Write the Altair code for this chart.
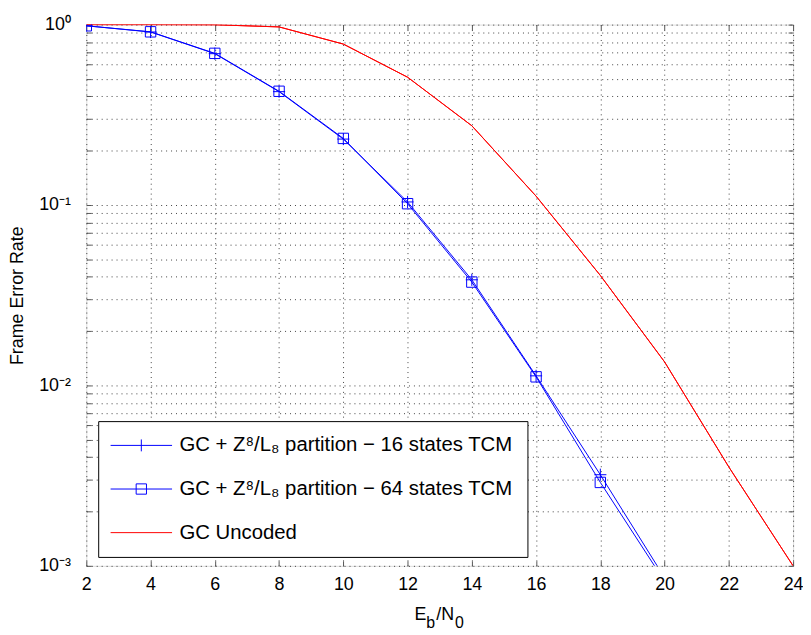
import altair as alt
import pandas as pd

# ---------------- data ----------------
ebno = [2, 4, 6, 8, 10, 12, 14, 16, 18, 20]
fer_16 = [0.985, 0.91, 0.69, 0.425, 0.232, 0.104, 0.0385, 0.0113, 0.0032, 0.00086]
fer_64 = [0.985, 0.912, 0.693, 0.427, 0.234, 0.1017, 0.0374, 0.01116, 0.0029, 0.00082]

ebno_unc = [2, 4, 6, 8, 10, 12, 14, 16, 18, 20, 22, 24]
fer_unc = [1.0, 1.0, 0.998, 0.971, 0.78, 0.511, 0.275, 0.112, 0.0407, 0.0135, 0.00353, 0.001]

series_names = [
    "GC + Z⁸/L₈ partition − 16 states TCM",
    "GC + Z⁸/L₈ partition − 64 states TCM",
    "GC Uncoded",
]
series_colors = ["#0000ff", "#0000ff", "#ff0000"]

x_ticks = [2, 4, 6, 8, 10, 12, 14, 16, 18, 20, 22, 24]
y_decades = [0.001, 0.01, 0.1, 1]
y_decade_labels = ["10⁻³", "10⁻²", "10⁻¹", "10⁰"]
y_grid = [m * d for d in [0.001, 0.01, 0.1] for m in range(1, 10)] + [1]

x_title_parts = ["E", "b", "/N", "0"]

# ---------------- tables ----------------
df16 = pd.DataFrame({"x": ebno, "y": fer_16, "series": series_names[0]})
df64 = pd.DataFrame({"x": ebno, "y": fer_64, "series": series_names[1]})
dfu = pd.DataFrame({"x": ebno_unc, "y": fer_unc, "series": series_names[2]})
legend_df = pd.DataFrame({"series": series_names})

FONT = "Liberation Sans"
W, H = 713, 546
TICK = 5
TICK_COLOR = "#555"

label_expr = " : ".join(
    f"abs(datum.value - {v}) < {v}*1e-6 ? '{l}'" for v, l in zip(y_decades, y_decade_labels)
) + " : ''"

x_scale = alt.Scale(domain=[2, 24], nice=False, zero=False)
y_scale = alt.Scale(type="log", domain=[0.001, 1], nice=False)

grid_kw = dict(grid=True, gridDash=[1, 4], gridColor="#000", gridOpacity=0.75)

x_axis = alt.Axis(
    values=x_ticks, **grid_kw, ticks=True, tickSize=TICK, tickColor=TICK_COLOR, offset=-TICK,
    domain=False, labelFontSize=18, labelFont=FONT, labelColor="#000",
    labelPadding=10, title=None, labelFlush=False,
)
y_axis = alt.Axis(
    values=y_grid, **grid_kw, ticks=True, tickSize=TICK, tickColor=TICK_COLOR, offset=-TICK,
    domain=False, labelFontSize=18, labelFont=FONT, labelColor="#000",
    labelPadding=16, labelExpr=label_expr, title="Frame Error Rate",
    titleFont=FONT, titleFontSize=18, titleFontWeight="normal", titleColor="#000",
    titlePadding=12, labelFlush=False,
)
x_axis_top = alt.Axis(
    values=x_ticks, orient="top", grid=False, ticks=True, tickSize=TICK, tickColor=TICK_COLOR,
    offset=-TICK, domain=False, labels=False, title=None,
)
y_axis_right = alt.Axis(
    values=y_grid, orient="right", grid=False, ticks=True, tickSize=TICK, tickColor=TICK_COLOR,
    offset=-TICK, domain=False, labels=False, title=None,
)

X = alt.X("x:Q", scale=x_scale, axis=x_axis)
Y = alt.Y("y:Q", scale=y_scale, axis=y_axis)
Xn = alt.X("x:Q", scale=x_scale, axis=None)
Yn = alt.Y("y:Q", scale=y_scale, axis=None)
Xt = alt.X("x:Q", scale=x_scale, axis=x_axis_top)
Yr = alt.Y("y:Q", scale=y_scale, axis=y_axis_right)

def line(df, color, x=Xn, y=Yn):
    return alt.Chart(df).mark_line(color=color, strokeWidth=1, clip=True).encode(x=x, y=y)

plus_path = "M-1,0H1M0,-1V1"

l16 = line(df16, series_colors[0])
l64 = line(df64, series_colors[1])
lu = line(dfu, series_colors[2], X, Y)
lu_top = line(dfu, series_colors[2], Xt, Yr)
p16 = alt.Chart(df16).mark_point(shape=plus_path, size=150, filled=False, color=series_colors[0],
                                  strokeWidth=1, opacity=1, clip=True).encode(x=Xn, y=Yn)
p64 = alt.Chart(df64).mark_point(shape="square", size=110, filled=False, color=series_colors[1],
                                  strokeWidth=1, opacity=1, clip=True).encode(x=Xn, y=Yn)

legend_shapes = [
    "M-3.1,0H3.1M0,-0.6V0.6",
    "M-3.1,0H3.1M-0.52,-0.52H0.52V0.52H-0.52Z",
    "M-3.1,0H3.1",
]

legend_layer = alt.Chart(legend_df).transform_filter("datum.series == 'none'").mark_point(
    filled=False, strokeWidth=1, opacity=1
).encode(
    color=alt.Color("series:N", scale=alt.Scale(domain=series_names, range=series_colors),
                    legend=alt.Legend(title=None, orient="none", legendX=12, legendY=400,
                                      strokeColor="#000", fillColor="#fff", padding=14,
                                      symbolSize=400, symbolOffset=19, labelOffset=28,
                                      rowPadding=23, labelFontSize=20.5, labelFont=FONT,
                                      labelColor="#000", labelLimit=600,
                                      symbolStrokeWidth=1, symbolFillColor="transparent",
                                      symbolOpacity=1)),
    shape=alt.Shape("series:N", scale=alt.Scale(domain=series_names, range=legend_shapes)),
)

def txt(t, x, y, size):
    return alt.Chart(pd.DataFrame({"a": [0]})).mark_text(
        text=t, font=FONT, fontSize=size, align="left", baseline="alphabetic", color="#000"
    ).encode(x=alt.value(x), y=alt.value(y))

t1 = txt(x_title_parts[0], 331, 601, 18)
t2 = txt(x_title_parts[1], 343, 609, 16)
t3 = txt(x_title_parts[2], 353, 601, 18)
t4 = txt(x_title_parts[3], 372, 609, 16)

chart = alt.layer(lu_top, l16, l64, lu, p16, p64, legend_layer, t1, t2, t3, t4).resolve_axis(
    x="independent", y="independent"
).properties(
    width=W, height=H,
    autosize=alt.AutoSizeParams(type="none"),
    padding={"left": 79, "top": 14, "right": 10, "bottom": 65},
).configure_view(stroke="#555", strokeWidth=1).configure(background="#ffffff")

chart.save("out.html", embed_options={"renderer": "svg", "actions": False})
